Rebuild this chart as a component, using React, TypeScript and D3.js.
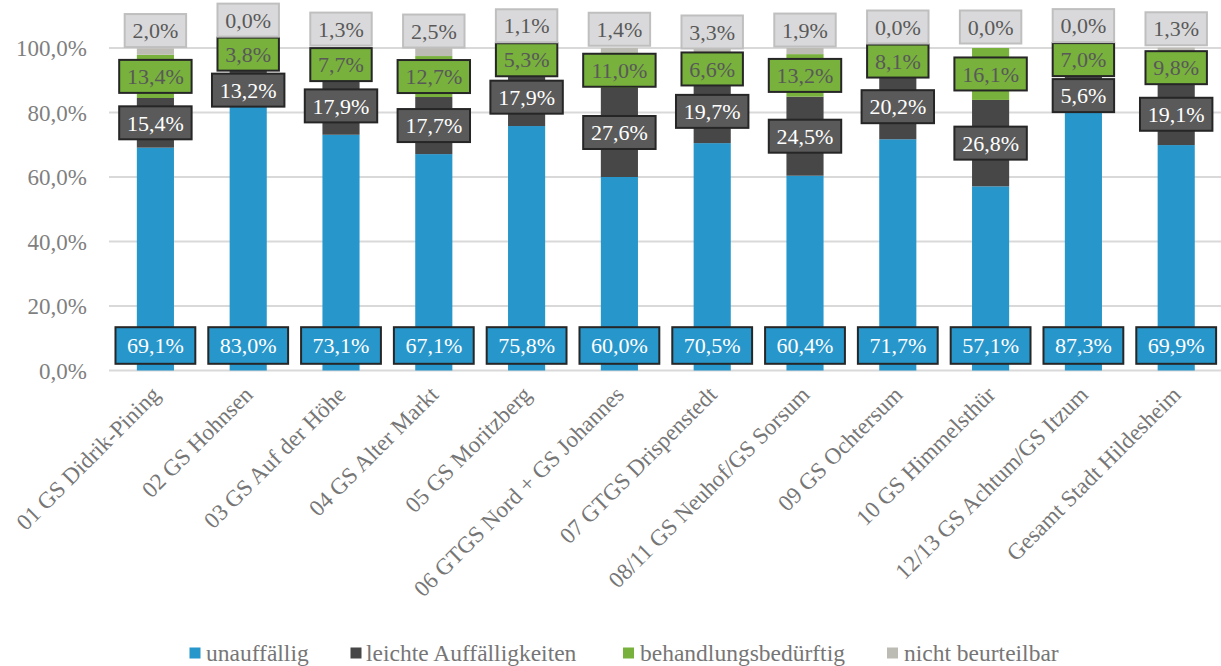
import React from "react";
import * as d3 from "d3";

const categories = [
  "01 GS Didrik-Pining",
  "02 GS Hohnsen",
  "03 GS Auf der Höhe",
  "04 GS Alter Markt",
  "05 GS Moritzberg",
  "06 GTGS Nord + GS Johannes",
  "07 GTGS Drispenstedt",
  "08/11 GS Neuhof/GS Sorsum",
  "09 GS Ochtersum",
  "10 GS Himmelsthür",
  "12/13 GS Achtum/GS Itzum",
  "Gesamt Stadt Hildesheim",
];

const unauffaellig = [69.1, 83.0, 73.1, 67.1, 75.8, 60.0, 70.5, 60.4, 71.7, 57.1, 87.3, 69.9];
const leichte = [15.4, 13.2, 17.9, 17.7, 17.9, 27.6, 19.7, 24.5, 20.2, 26.8, 5.6, 19.1];
const behandlung = [13.4, 3.8, 7.7, 12.7, 5.3, 11.0, 6.6, 13.2, 8.1, 16.1, 7.0, 9.8];
const nichtBeurteilbar = [2.0, 0.0, 1.3, 2.5, 1.1, 1.4, 3.3, 1.9, 0.0, 0.0, 0.0, 1.3];

const seriesNames = ["unauffällig", "leichte Auffälligkeiten", "behandlungsbedürftig", "nicht beurteilbar"];
const yTicks = [0, 20, 40, 60, 80, 100];

const W = 1221;
const H = 666;
const FONT = "'Liberation Serif', 'Times New Roman', serif";

const barColors = ["#2796CB", "#474747", "#78B13C", "#BDBCB4"];
const labelFill = ["#2796CB", "#5A5A5A", "#78B13C", "#D9D9DB"];
const labelStroke = ["#262626", "#262626", "#262626", "#BFBFBF"];
const labelText = ["#FFFFFF", "#FFFFFF", "#595959", "#595959"];

const fmt = (v: number) => v.toFixed(1).replace(".", ",") + "%";

function textWidth(s: string, fs: number) {
  let w = 0;
  for (const c of s) {
    if (c === ",") w += 0.25;
    else if (c === "%") w += 0.833;
    else w += 0.5;
  }
  return w * fs;
}

export default function App() {
  const x = d3
    .scaleBand<string>()
    .domain(categories)
    .range([109, 1222.6])
    .paddingInner(0.6)
    .paddingOuter(0.3);
  const y = d3.scaleLinear().domain([0, 100]).range([370.5, 48]);

  const data = categories.map((c, i) => ({
    cat: c,
    vals: [unauffaellig[i], leichte[i], behandlung[i], nichtBeurteilbar[i]],
  }));

  const stack = d3
    .stack<any>()
    .keys(["0", "1", "2", "3"])
    .value((d: any, k: string) => d.vals[+k]);
  const stacked = stack(data);

  const fsLabel = 22;
  const hh = 16.5;

  const labels: any[] = [];
  data.forEach((d, i) => {
    const cx = x(d.cat)! + x.bandwidth() / 2;
    const s = stacked.map((ser) => ser[i]);
    const yBlue = y(0) - 25;
    const yGreen = y((s[2][0] + s[2][1]) / 2);
    let yDark = y((s[1][0] + s[1][1]) / 2);
    if (yDark - hh < yGreen + hh + 3) yDark = yGreen + 2 * hh + 3;
    let yGrey = y((s[3][0] + s[3][1]) / 2) - 21;
    if (yGrey + hh > yGreen - hh - 1) yGrey = yGreen - 2 * hh - 1;
    const ys = [yBlue, yDark, yGreen, yGrey];
    [0, 1, 2, 3].forEach((k) => {
      const t = fmt(d.vals[k]);
      const big = k === 0;
      const pad = big ? 11.5 : 7.8;
      const h2 = big ? 18.3 : hh;
      const w = textWidth(t, fsLabel) + 2 * pad;
      labels.push({ key: `${i}-${k}`, cx, cy: ys[k], w, h2, t, k });
    });
  });

  const legendItems = [
    { x: 189.5, tx: 206 },
    { x: 350.5, tx: 366 },
    { x: 623, tx: 640 },
    { x: 887, tx: 904 },
  ];

  return (
    <svg
      width={W}
      height={H}
      style={{ position: "absolute", left: 0, top: 0, background: "#fff", fontFamily: FONT }}
    >
      {yTicks.map((t) => (
        <g key={t}>
          <line x1={109} x2={W} y1={y(t)} y2={y(t)} stroke="#D9D9D9" strokeWidth={2} />
          <text
            x={87}
            y={y(t)}
            dy="0.35em"
            textAnchor="end"
            fontSize={23}
            fill="#7F7F7F"
          >
            {fmt(t)}
          </text>
        </g>
      ))}
      {stacked.map((ser, k) => (
        <g key={k} fill={barColors[k]}>
          {ser.map((seg: any, i: number) => (
            <rect
              key={i}
              x={x(categories[i])!}
              width={x.bandwidth()}
              y={y(seg[1])}
              height={Math.max(0, y(seg[0]) - y(seg[1]))}
            />
          ))}
        </g>
      ))}
      {labels.map((l) => (
        <g key={l.key}>
          <rect
            x={l.cx - l.w / 2}
            y={l.cy - l.h2}
            width={l.w}
            height={2 * l.h2}
            fill={labelFill[l.k]}
            stroke={labelStroke[l.k]}
            strokeWidth={2}
          />
          <text
            x={l.cx}
            y={l.cy}
            dy="0.35em"
            textAnchor="middle"
            fontSize={fsLabel}
            fill={labelText[l.k]}
          >
            {l.t}
          </text>
        </g>
      ))}
      {categories.map((c) => {
        const cx = x(c)! + x.bandwidth() / 2;
        return (
          <text
            key={c}
            transform={`translate(${cx + 6},${396}) rotate(-45)`}
            textAnchor="end"
            fontSize={23}
            fill="#767676"
          >
            {c}
          </text>
        );
      })}
      {seriesNames.map((n, k) => (
        <g key={n}>
          <rect x={legendItems[k].x} y={647.5} width={11} height={11} fill={barColors[k]} />
          <text x={legendItems[k].tx} y={661} fontSize={23.5} fill="#767676">
            {n}
          </text>
        </g>
      ))}
    </svg>
  );
}
